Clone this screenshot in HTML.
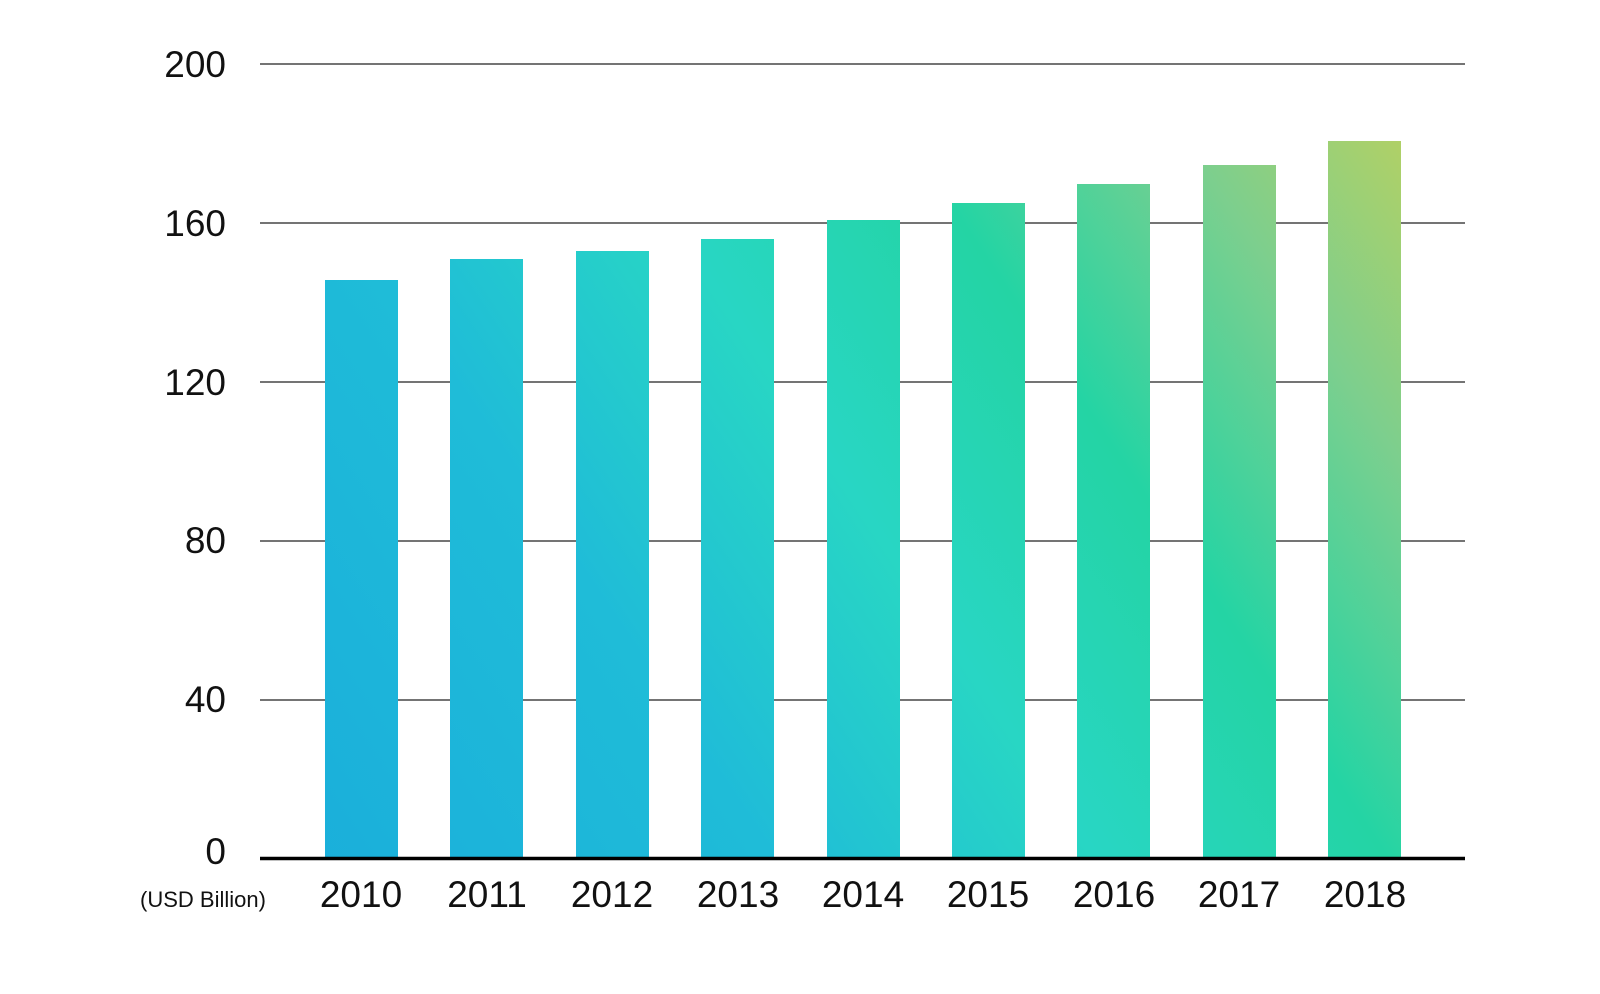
<!DOCTYPE html>
<html><head><meta charset="utf-8"><style>
html,body{margin:0;padding:0;background:#fff;}
svg{display:block;}
text{font-family:"Liberation Sans",sans-serif;fill:#111;}
</style></head><body>
<svg width="1600" height="994" viewBox="0 0 1600 994">
<defs>
<linearGradient id="g" gradientUnits="userSpaceOnUse" x1="300" y1="880" x2="1420" y2="130">
<stop offset="0" stop-color="#1aaedb"/>
<stop offset="0.3" stop-color="#1fbcd8"/>
<stop offset="0.5" stop-color="#28d6c4"/>
<stop offset="0.68" stop-color="#24d4a4"/>
<stop offset="0.85" stop-color="#7ccf8e"/>
<stop offset="1" stop-color="#b6d062"/>
</linearGradient>
</defs>
<g stroke="#222" stroke-width="1.3">
<line x1="260" y1="64" x2="1465" y2="64"/>
<line x1="260" y1="223" x2="1465" y2="223"/>
<line x1="260" y1="382" x2="1465" y2="382"/>
<line x1="260" y1="541" x2="1465" y2="541"/>
<line x1="260" y1="700" x2="1465" y2="700"/>
</g>
<g fill="url(#g)">
<rect x="325" y="280" width="73" height="579"/>
<rect x="450" y="259" width="73" height="600"/>
<rect x="576" y="251" width="73" height="608"/>
<rect x="701" y="239" width="73" height="620"/>
<rect x="827" y="220" width="73" height="639"/>
<rect x="952" y="203" width="73" height="656"/>
<rect x="1077" y="184" width="73" height="675"/>
<rect x="1203" y="165" width="73" height="694"/>
<rect x="1328" y="141" width="73" height="718"/>
</g>
<line x1="260" y1="858.5" x2="1465" y2="858.5" stroke="#000" stroke-width="3.5"/>
<g font-size="37" text-anchor="end">
<text x="226" y="77">200</text>
<text x="226" y="236">160</text>
<text x="226" y="395">120</text>
<text x="226" y="553">80</text>
<text x="226" y="712">40</text>
<text x="226" y="864">0</text>
</g>
<g font-size="37" text-anchor="middle">
<text x="361" y="907">2010</text>
<text x="487" y="907">2011</text>
<text x="612" y="907">2012</text>
<text x="738" y="907">2013</text>
<text x="863" y="907">2014</text>
<text x="988" y="907">2015</text>
<text x="1114" y="907">2016</text>
<text x="1239" y="907">2017</text>
<text x="1365" y="907">2018</text>
</g>
<text x="203" y="907" font-size="22" text-anchor="middle">(USD Billion)</text>
</svg>
</body></html>
